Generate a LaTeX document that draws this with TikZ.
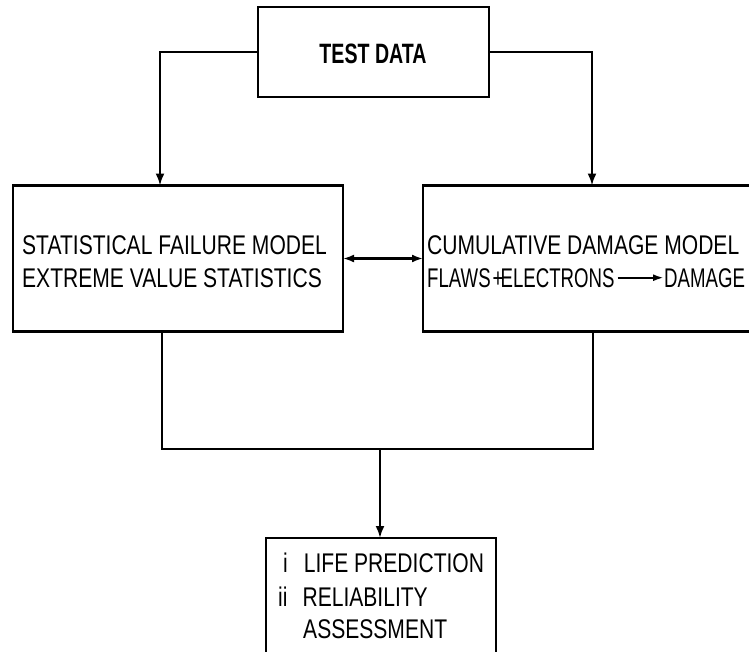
\documentclass[tikz,border=0pt]{standalone}
\usepackage{fontspec}
\setmainfont{Liberation Sans}
\newfontfamily\condf[FakeStretch=0.78]{Liberation Sans}
\newfontfamily\condn[FakeStretch=0.69]{Liberation Sans}
\newfontfamily\condb[FakeStretch=0.70]{Liberation Sans Bold}
\usetikzlibrary{arrows.meta,calc}
\tikzset{
  box/.style={draw, line width=2.8pt, inner sep=0pt, outer sep=0pt},
  conn/.style={draw, line width=2.2pt},
  arr/.style={conn, -{Latex[length=12pt,width=9pt]}},
  dblarr/.style={conn, {Latex[length=11pt,width=8pt]}-{Latex[length=11pt,width=8pt]}},
  txt/.style={anchor=base west, inner sep=0pt, font=\condf\fontsize{27}{32}\selectfont},
  ntxt/.style={anchor=base west, inner sep=0pt, font=\condn\fontsize{27}{32}\selectfont},
  ttl/.style={anchor=base, inner sep=0pt, font=\condb\fontsize{28}{32}\selectfont},
}
\begin{document}
\begin{tikzpicture}[x=1pt,y=-1pt]
\useasboundingbox (0,0) rectangle (749,651);
% boxes
\node[box, minimum width=231pt, minimum height=90pt] (td) at (373.5,52) {};
\node[box, minimum width=330pt, minimum height=146pt] (lb) at (178,258.5) {};
\node[box, minimum width=330pt, minimum height=146pt] (rb) at (588,258.5) {};
\node[box, minimum width=230pt, minimum height=127pt] (bb) at (381,601.5) {};
% texts
\node[ttl] (ttd) at (373,63) {TEST DATA};
\node[txt] (l1) at (22,254) {STATISTICAL FAILURE MODEL};
\node[txt] (l2) at (22,287) {EXTREME VALUE STATISTICS};
\node[txt] (r1) at (427,254) {CUMULATIVE DAMAGE MODEL};
\node[ntxt] (r2) at (427,287) {FLAWS\kern2pt+\kern-3pt ELECTRONS};
\node[ntxt] (r3) at (664,287) {DAMAGE};
\node[txt] (b1) at (283,572) {i\hspace{16pt}LIFE PREDICTION};
\node[txt] (b2) at (278,606) {ii\hspace{15pt}RELIABILITY};
\node[txt] (b3) at (303,638) {ASSESSMENT};
% connectors
\draw[arr] (td.west) -| ([xshift=-18pt]lb.north);
\draw[arr] (td.east) -| ([xshift=4pt]rb.north);
\draw[dblarr] (lb.east) -- (rb.west);
\coordinate (jn) at (380,449);
\draw[conn] ([xshift=-16pt]lb.south) |- (jn) -| ([xshift=5pt]rb.south);
\draw[arr] (jn) -- (jn |- bb.north);
\draw[conn, -{Latex[length=11pt,width=7pt]}] ([xshift=3pt]r2.east) -- (r3.west);
\end{tikzpicture}
\end{document}
